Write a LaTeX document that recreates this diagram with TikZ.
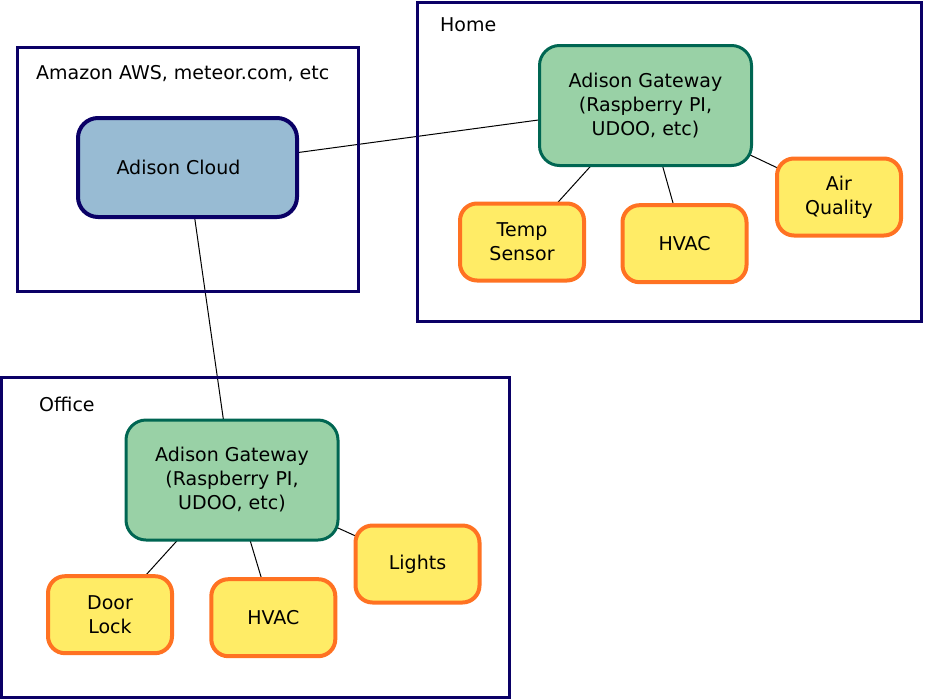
\documentclass[tikz,border=0pt]{standalone}
\usepackage{fontspec}
\setmainfont{DejaVu Sans}
\usetikzlibrary{backgrounds}
\definecolor{zonenavy}{HTML}{0A0066}
\definecolor{cloudfill}{HTML}{98BBD3}
\definecolor{gwfill}{HTML}{99D1A6}
\definecolor{gwline}{HTML}{006652}
\definecolor{devfill}{HTML}{FFEC66}
\definecolor{devline}{HTML}{FF7222}
\tikzset{
  zone/.style={draw=zonenavy, line width=3pt},
  zonelabel/.style={anchor=base west, inner sep=0pt},
  cloud/.style={draw=zonenavy, line width=4pt, rounded corners=20pt, fill=cloudfill, minimum width=219pt, minimum height=99pt, align=center},
  gateway/.style={draw=gwline, line width=3pt, rounded corners=20pt, fill=gwfill, minimum width=212pt, minimum height=120pt, align=center},
  device/.style={draw=devline, line width=4pt, rounded corners=17pt, fill=devfill, minimum width=124pt, minimum height=77pt, align=center},
  link/.style={line width=1pt, black}
}

\begin{document}
\begin{tikzpicture}[x=1pt, y=-1pt, font=\fontsize{19}{24}\selectfont]
  \useasboundingbox (0,0) rectangle (925,699);
  % zones
  \draw[zone] (17.5,47.5) rectangle (358.5,291.5);
  \draw[zone] (417.5,2.5) rectangle (921.5,321.5);
  \draw[zone] (1.5,377.5) rectangle (509.5,697.5);
  \node[zonelabel] (awslabel) at (36,79) {Amazon AWS, meteor.com, etc};
  \node[zonelabel] (homelabel) at (440,31) {Home};
  \node[zonelabel] (officelabel) at (39,411) {Office};

  % cloud and gateways
  \node[cloud] (cloud) at (187.5,167.5) {Adison Cloud\hspace*{18pt}};
  \node[gateway] (homegw) at (645.5,105.5) {Adison Gateway\\(Raspberry PI,\\UDOO, etc)};
  \node[gateway] (officegw) at (232,480) {Adison Gateway\\(Raspberry PI,\\UDOO, etc)};

  % home devices
  \node[device] (temp) at (522,242) {Temp\\Sensor};
  \node[device] (homehvac) at (684.5,243.7) {HVAC};
  \node[device] (air) at (839,197) {Air\\Quality};

  % office devices
  \node[device] (door) at (110,614.7) {Door\\Lock};
  \node[device] (officehvac) at (273.3,617.7) {HVAC};
  \node[device] (lights) at (417.5,564) {Lights};

  \begin{scope}[on background layer]
    \draw[link] (cloud.center) -- (homegw.center);
    \draw[link] (cloud.center) -- (officegw.center);
    \draw[link] (homegw.center) -- (temp.center);
    \draw[link] (homegw.center) -- (homehvac.center);
    \draw[link] (homegw.center) -- (air.center);
    \draw[link] (officegw.center) -- (door.center);
    \draw[link] (officegw.center) -- (officehvac.center);
    \draw[link] (officegw.center) -- (lights.center);
  \end{scope}
\end{tikzpicture}
\end{document}
